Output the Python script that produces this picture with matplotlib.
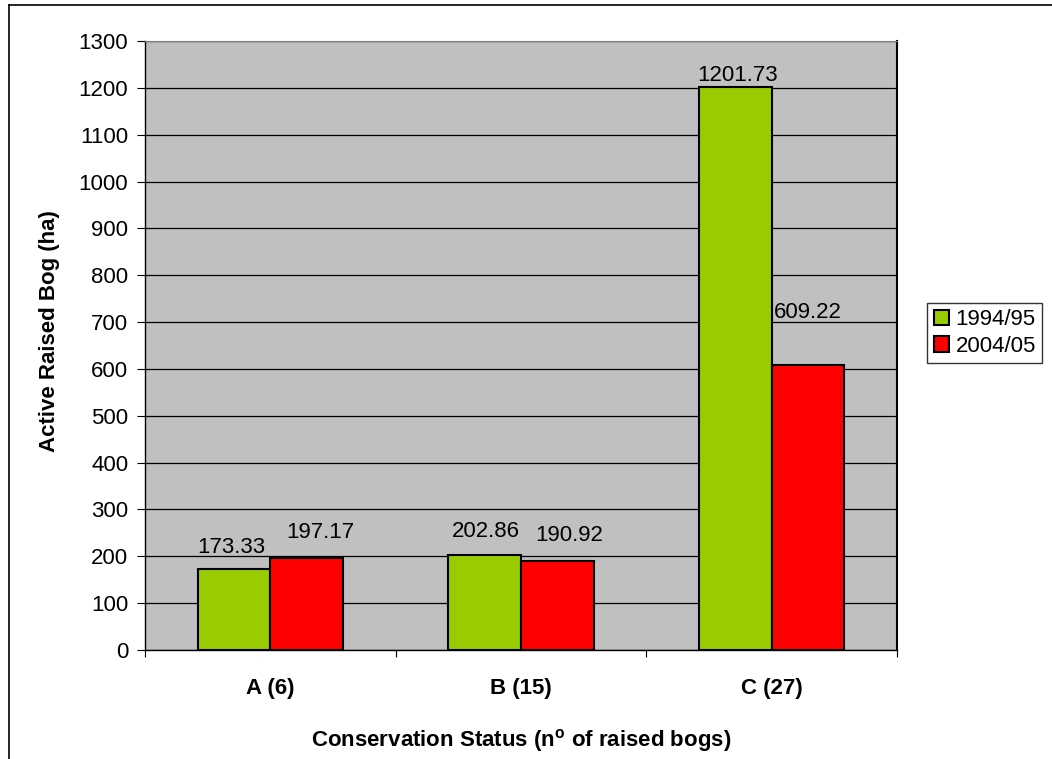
import numpy as np
import matplotlib.pyplot as plt
from matplotlib.lines import Line2D

categories = ['A (6)', 'B (15)', 'C (27)']
series_names = ['1994/95', '2004/05']
values_1994 = [173.33, 202.86, 1201.73]
values_2004 = [197.17, 190.92, 609.22]
colors = ['#99CC00', '#FF0000']

# label placement (pixels from top centre of each bar), as in the original layout
offsets_1994 = [(-3, 16), (1, 18), (2, 6)]
offsets_2004 = [(14, 20), (12, 20), (0, 47)]

plt.rcParams['font.family'] = ['Liberation Sans', 'DejaVu Sans']

W, H = 1052, 759
fig = plt.figure(figsize=(W / 100, H / 100), dpi=100)
ax = fig.add_axes([145 / W, 1 - 650 / H, 752 / W, 609 / H])
ax.set_facecolor('#C0C0C0')

x = np.arange(len(categories))
w = 0.29
b1 = ax.bar(x - w / 2, values_1994, w, color=colors[0], edgecolor='black', linewidth=1.5,
            label=series_names[0], zorder=3)
b2 = ax.bar(x + w / 2, values_2004, w, color=colors[1], edgecolor='black', linewidth=1.5,
            label=series_names[1], zorder=3)
for bars, vals, offs in [(b1, values_1994, offsets_1994), (b2, values_2004, offsets_2004)]:
    for rect, v, (dx, dy) in zip(bars, vals, offs):
        ax.annotate(f'{v:.2f}', (rect.get_x() + rect.get_width() / 2, v),
                    xytext=(dx * 0.72, dy * 0.72), textcoords='offset points',
                    ha='center', va='baseline', fontsize=16, zorder=4)

ax.set_xlim(-0.5, 2.5)
ax.set_ylim(0, 1300)
ax.set_yticks(np.arange(0, 1301, 100))
ax.yaxis.grid(True, color='black', linewidth=0.9, zorder=1)
ax.set_axisbelow(True)

ax.set_xticks([-0.5, 0.5, 1.5, 2.5])
ax.set_xticklabels([])
ax.set_xticks(x, minor=True)
ax.set_xticklabels(categories, minor=True, fontsize=16, fontweight='bold')
ax.tick_params(axis='x', which='minor', length=0, pad=20)
ax.tick_params(axis='x', which='major', direction='out', length=5, color='black')
ax.tick_params(axis='y', direction='out', length=6, labelsize=16, pad=6)

ax.spines['top'].set_color('#808080')
ax.spines['right'].set_color('black')
ax.spines['right'].set_linewidth(1.5)
for side in ['left', 'bottom']:
    ax.spines[side].set_color('black')
    ax.spines[side].set_linewidth(1)

ax.set_ylabel('Active Raised Bog (ha)', fontsize=16, fontweight='bold')
ax.yaxis.set_label_coords(-0.113, 0.524)
ax.set_xlabel('Conservation Status (n$^{\\mathregular{o}}$ of raised bogs)', fontsize=16,
              fontweight='bold', labelpad=20)

leg = ax.legend(loc='center left', bbox_to_anchor=(927 / W, 1 - 333 / H),
                bbox_transform=fig.transFigure, fontsize=16, frameon=True,
                fancybox=False, edgecolor='black', handlelength=0.68, handleheight=0.68,
                handletextpad=0.3, borderpad=0.3, labelspacing=0.25, borderaxespad=0)
leg.get_frame().set_linewidth(1)

fig.add_artist(Line2D([9 / W, 9 / W], [0, 1 - 5 / H], color='black', linewidth=1.2))
fig.add_artist(Line2D([9 / W, 1], [1 - 5 / H, 1 - 5 / H], color='black', linewidth=1.2))

fig.savefig('out.png', dpi=100)
